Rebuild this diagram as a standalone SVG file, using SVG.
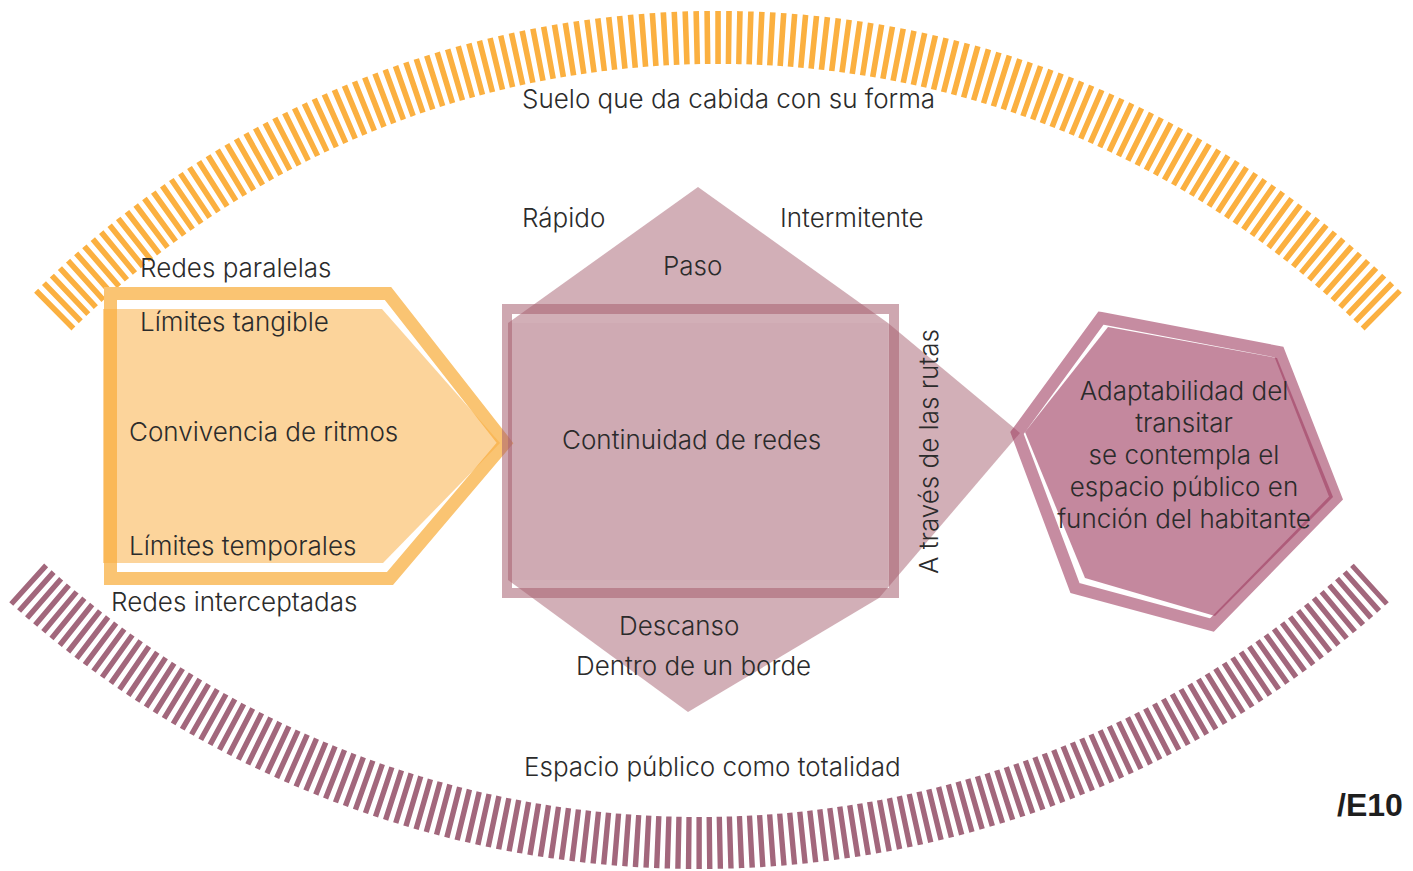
<svg xmlns="http://www.w3.org/2000/svg" width="1413" height="871" viewBox="0 0 1413 871">
<style>
.t { font-family: Inter, "Liberation Sans", sans-serif; font-weight: 300; font-size: 26px; fill: #2b2b2b; }
.c { text-anchor: middle; }
.arcTop { fill: none; stroke: #FBB040; stroke-width: 53; stroke-dasharray: 5.6 5.057; }
.arcBot { fill: none; stroke: #A2677C; stroke-width: 52; stroke-dasharray: 5.4 4.95; }
.mauve { fill: #A55F70; fill-opacity: 0.5; }
.rectStroke { fill: none; stroke: #A55F70; stroke-opacity: 0.55; stroke-width: 10; }
.hexStroke { fill: none; stroke: #A03F62; stroke-opacity: 0.6; stroke-width: 12; stroke-linejoin: miter; }
.hexFill { fill: #A03F62; fill-opacity: 0.62; }
</style>
<rect x="0" y="0" width="1413" height="871" fill="#ffffff"/>

<g id="arc-top">
  <path class="arcTop" d="M 52.8 311.6 A 944 944 0 0 1 1383.2 311.6"/>
  <text class="t" x="522" y="108">Suelo que da cabida con su forma</text>
</g>

<g id="arc-bottom">
  <path class="arcBot" d="M 26.7 582.9 A 999 999 0 0 0 1371.3 582.9"/>
  <text class="t" x="524" y="776">Espacio público como totalidad</text>
</g>

<g id="node-ritmos">
  <polygon points="110.5,293.5 388,293.5 505,443 390,578.5 110.5,578.5" fill="none" stroke="#FAC472" stroke-width="13" stroke-linejoin="miter"/>
  <polygon points="103,309 382,309 500,443 383,563 103,563" fill="#F9AC3F" fill-opacity="0.52"/>
  <text class="t" x="140" y="277">Redes paralelas</text>
  <text class="t" x="140" y="331">Límites tangible</text>
  <text class="t" x="129" y="441">Convivencia de ritmos</text>
  <text class="t" x="129" y="555">Límites temporales</text>
  <text class="t" x="111" y="611">Redes interceptadas</text>
</g>

<g id="node-redes">
  <polygon class="mauve" points="698,187 888,323 1020,433 879,598 688,712 508,580 508,323"/>
  <rect class="rectStroke" x="507" y="309" width="387" height="284"/>
  <rect x="508" y="323" width="380" height="257" fill="#A55F70" fill-opacity="0.06"/>
  <text class="t" x="522" y="227">Rápido</text>
  <text class="t" x="780" y="227">Intermitente</text>
  <text class="t" x="663" y="275">Paso</text>
  <text class="t" x="562" y="449">Continuidad de redes</text>
  <text class="t" transform="translate(938 574) rotate(-90)">A través de las rutas</text>
  <text class="t" x="619" y="635">Descanso</text>
  <text class="t" x="576" y="675">Dentro de un borde</text>
</g>

<g id="node-adaptabilidad">
  <polygon class="hexStroke" points="1101,318 1279,352 1336,498 1212,625 1075,588 1017,433"/>
  <polygon class="hexFill" points="1108,327 1277,358 1333,497 1215,616 1085,578 1025,432"/>
  <text class="t c" x="1184" y="400">Adaptabilidad del</text>
  <text class="t c" x="1184" y="432">transitar</text>
  <text class="t c" x="1184" y="464">se contempla el</text>
  <text class="t c" x="1184" y="496">espacio público en</text>
  <text class="t c" x="1184" y="528">función del habitante</text>
</g>

<g id="connectors"></g>

<g id="label-e10">
  <text x="1337" y="816" font-family="'Liberation Sans', Arial, sans-serif" font-weight="bold" font-size="32" fill="#1e1e1e">/E10</text>
</g>
</svg>
